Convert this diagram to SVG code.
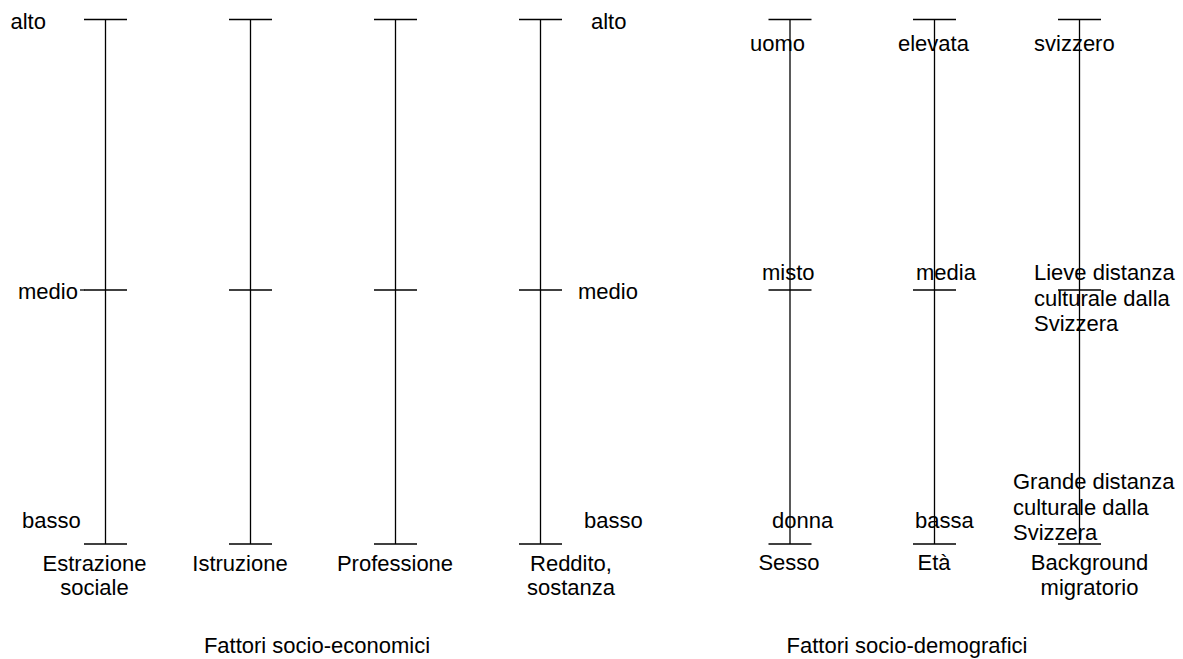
<svg xmlns="http://www.w3.org/2000/svg" width="1183" height="659" viewBox="0 0 1183 659">
  <style>
    .ax { stroke: #000; stroke-width: 1.3; fill: none; }
    text { font-family: "Liberation Sans", Arial, sans-serif; font-size: 22px; fill: #000; }
    .c { text-anchor: middle; }
  </style>
  <defs>
    <!-- vertical scale with top, middle and bottom ticks -->
    <g id="scale">
      <line class="ax" x1="0" y1="19.5" x2="0" y2="544"/>
      <line class="ax" x1="-21.5" y1="19.5" x2="21.5" y2="19.5"/>
      <line class="ax" x1="-21.5" y1="290" x2="21.5" y2="290"/>
      <line class="ax" x1="-21.5" y1="544" x2="21.5" y2="544"/>
    </g>
  </defs>

  <g id="connectors">
    <line class="ax" x1="80" y1="290" x2="84.5" y2="290"/>
  </g>

  <!-- socio-economic scales -->
  <g id="estrazione">
    <use href="#scale" x="105.5"/>
    <text class="c" x="94.5" y="571">Estrazione</text>
    <text class="c" x="94.5" y="595">sociale</text>
  </g>
  <g id="istruzione">
    <use href="#scale" x="250.5"/>
    <text class="c" x="240" y="571">Istruzione</text>
  </g>
  <g id="professione">
    <use href="#scale" x="395.5"/>
    <text class="c" x="395" y="571">Professione</text>
  </g>
  <g id="reddito">
    <use href="#scale" x="540.5"/>
    <text class="c" x="571" y="571">Reddito,</text>
    <text class="c" x="571" y="595">sostanza</text>
  </g>

  <g id="levels-left">
    <text x="10.5" y="29">alto</text>
    <text x="18" y="299">medio</text>
    <text x="22" y="528">basso</text>
  </g>
  <g id="levels-right">
    <text x="591" y="29">alto</text>
    <text x="578" y="299">medio</text>
    <text x="584" y="528">basso</text>
  </g>

  <!-- socio-demographic scales -->
  <g id="sesso">
    <use href="#scale" x="790"/>
    <text x="750" y="50.5">uomo</text>
    <text x="762" y="280">misto</text>
    <text x="772" y="528">donna</text>
    <text class="c" x="789" y="570">Sesso</text>
  </g>
  <g id="eta">
    <use href="#scale" x="934.5"/>
    <text x="898" y="50.5">elevata</text>
    <text x="916" y="280">media</text>
    <text x="915" y="528">bassa</text>
    <text class="c" x="934" y="570">Età</text>
  </g>
  <g id="background">
    <use href="#scale" x="1079.5"/>
    <text x="1034" y="50.5">svizzero</text>
    <text x="1034" y="280">Lieve distanza</text>
    <text x="1034" y="305.5">culturale dalla</text>
    <text x="1034" y="331">Svizzera</text>
    <text x="1013" y="489">Grande distanza</text>
    <text x="1013" y="514.5">culturale dalla</text>
    <text x="1013" y="540">Svizzera</text>
    <text class="c" x="1089.5" y="570">Background</text>
    <text class="c" x="1089.5" y="595">migratorio</text>
  </g>

  <g id="titles">
    <text class="c" x="317" y="653">Fattori socio-economici</text>
    <text class="c" x="907" y="653">Fattori socio-demografici</text>
  </g>
</svg>
